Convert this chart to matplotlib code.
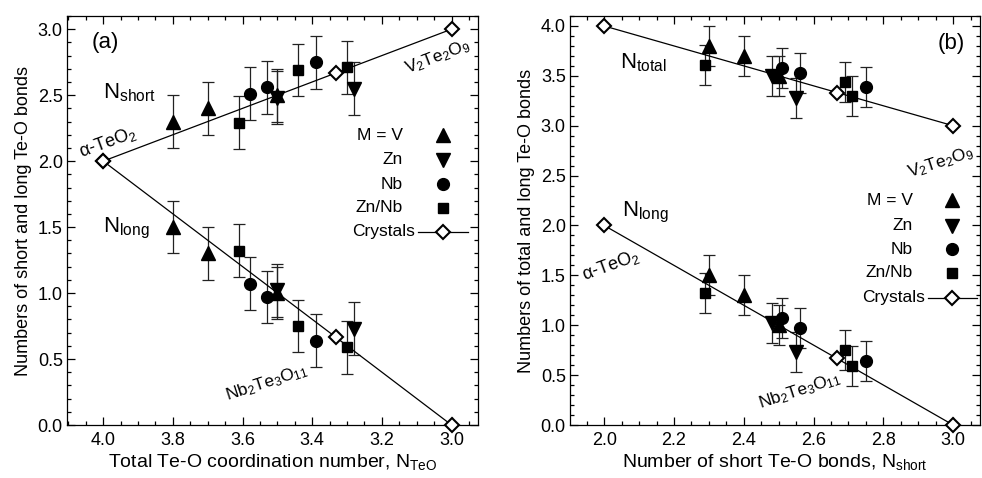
import matplotlib
matplotlib.use("Agg")
import matplotlib.pyplot as plt
from matplotlib.ticker import MultipleLocator, FormatStrFormatter

plt.rcParams['font.family'] = ['Liberation Sans', 'DejaVu Sans']
plt.rcParams['mathtext.fontset'] = 'custom'
plt.rcParams['mathtext.rm'] = 'Liberation Sans'
plt.rcParams['mathtext.it'] = 'Liberation Sans:italic'
plt.rcParams['mathtext.default'] = 'regular'

# Glass series: total Te-O coordination, short and long Te-O bonds
v_teo = [3.80, 3.70, 3.50]
v_short = [2.30, 2.40, 2.50]
v_long = [1.50, 1.30, 1.00]

zn_teo = [3.50, 3.28]
zn_short = [2.48, 2.55]
zn_long = [1.02, 0.73]

nb_teo = [3.58, 3.53, 3.39]
nb_short = [2.51, 2.56, 2.75]
nb_long = [1.07, 0.97, 0.64]

znnb_teo = [3.61, 3.44, 3.30]
znnb_short = [2.29, 2.69, 2.71]
znnb_long = [1.32, 0.75, 0.59]

err = 0.2

# Reference crystals: alpha-TeO2, Nb2Te3O11, V2Te2O9
cr_teo = [4.0, 3.333, 3.0]
cr_short = [2.0, 2.667, 3.0]
cr_long = [2.0, 0.667, 0.0]

series = [
    ("M = V", '^', 9.5, v_teo, v_short, v_long),
    ("Zn", 'v', 9.5, zn_teo, zn_short, zn_long),
    ("Nb", 'o', 8.5, nb_teo, nb_short, nb_long),
    ("Zn/Nb", 's', 7.5, znnb_teo, znnb_short, znnb_long),
]

fig = plt.figure(figsize=(9.82, 4.78), dpi=100)
ax1 = fig.add_axes([67 / 982, 1 - 425 / 478, 411 / 982, 409 / 478])
ax2 = fig.add_axes([570 / 982, 1 - 425 / 478, 410 / 982, 409 / 478])

err_kw = dict(ecolor='#222222', elinewidth=0.9, capsize=4.6, capthick=0.9,
              linestyle='none', color='black', zorder=3)
dia_kw = dict(marker='D', markersize=7.6, markerfacecolor='white',
              markeredgecolor='black', markeredgewidth=1.5, color='black',
              linewidth=0.9, clip_on=False, zorder=4)

# (a) short and long bonds vs total coordination
ax1.plot(cr_teo, cr_short, **dia_kw)
ax1.plot(cr_teo, cr_long, **dia_kw)
for label, mk, ms, teo, short, long_ in series:
    ax1.errorbar(teo, short, yerr=err, marker=mk, markersize=ms, **err_kw)
    ax1.errorbar(teo, long_, yerr=err, marker=mk, markersize=ms, **err_kw)

# (b) total and long bonds vs short bonds
ax2.plot(cr_short, cr_teo, **dia_kw)
ax2.plot(cr_short, cr_long, **dia_kw)
for label, mk, ms, teo, short, long_ in series:
    ax2.errorbar(short, teo, yerr=err, marker=mk, markersize=ms, **err_kw)
    ax2.errorbar(short, long_, yerr=err, marker=mk, markersize=ms, **err_kw)

ax1.set_xlim(4.104, 2.924)
ax1.set_ylim(0, 3.1)
ax2.set_xlim(1.902, 3.077)
ax2.set_ylim(0, 4.1)

for ax in (ax1, ax2):
    ax.xaxis.set_major_locator(MultipleLocator(0.2))
    ax.xaxis.set_minor_locator(MultipleLocator(0.05))
    ax.yaxis.set_major_locator(MultipleLocator(0.5))
    ax.yaxis.set_minor_locator(MultipleLocator(0.1))
    ax.tick_params(which='both', direction='in', top=True, right=True,
                   width=0.9, labelsize=13)
    ax.tick_params(which='major', length=5.5)
    ax.tick_params(which='minor', length=2.7)
    ax.tick_params(axis='x', pad=5)
    ax.tick_params(axis='y', pad=3)
    for sp in ax.spines.values():
        sp.set_linewidth(0.9)
    ax.xaxis.set_major_formatter(FormatStrFormatter('%.1f'))
    ax.yaxis.set_major_formatter(FormatStrFormatter('%.1f'))

ax1.set_xlabel("Total Te-O coordination number, N$_{TeO}$", fontsize=14, labelpad=2)
ax1.set_ylabel("Numbers of short and long Te-O bonds", fontsize=13, labelpad=4)
ax2.set_xlabel("Number of short Te-O bonds, N$_{short}$", fontsize=14, labelpad=2)
ax2.set_ylabel("Numbers of total and long Te-O bonds", fontsize=13, labelpad=4)

# panel annotations
ax1.text(3.993, 2.90, "(a)", fontsize=16, ha='center', va='center')
ax1.text(4.0, 2.52, "N$_{short}$", fontsize=16, ha='left', va='center')
ax1.text(4.0, 1.49, "N$_{long}$", fontsize=16, ha='left', va='center')
ax1.text(3.987, 2.14, "α-TeO$_2$", fontsize=13, ha='center', va='center', rotation=20)
ax1.text(3.039, 2.79, "V$_2$Te$_2$O$_9$", fontsize=12.5, ha='center', va='center', rotation=21)
ax1.text(3.53, 0.32, "Nb$_2$Te$_3$O$_{11}$", fontsize=12.5, ha='center', va='center', rotation=18)

ax2.text(2.996, 3.82, "(b)", fontsize=16, ha='center', va='center')
ax2.text(2.045, 3.63, "N$_{total}$", fontsize=16, ha='left', va='center')
ax2.text(2.05, 2.135, "N$_{long}$", fontsize=16, ha='left', va='center')
ax2.text(2.019, 1.60, "α-TeO$_2$", fontsize=13, ha='center', va='center', rotation=20)
ax2.text(2.965, 2.63, "V$_2$Te$_2$O$_9$", fontsize=12.5, ha='center', va='center', rotation=18)
ax2.text(2.56, 0.34, "Nb$_2$Te$_3$O$_{11}$", fontsize=12.5, ha='center', va='center', rotation=18)


def draw_key(ax, mx, rows, text_x, cr_text_x, line_x0, line_x1):
    for (label, mk, ms, *_), y in zip(series, rows[:4]):
        ax.plot([mx], [y], marker=mk, markersize=ms, color='black',
                linestyle='none', transform=ax.transAxes, clip_on=False)
        ax.text(text_x, y, label, fontsize=12.5, ha='right', va='center',
                transform=ax.transAxes)
    y = rows[4]
    ax.plot([line_x0, line_x1], [y, y], color='black', linewidth=0.9,
            transform=ax.transAxes, clip_on=False, zorder=4)
    ax.plot([mx], [y], marker='D', markersize=7.6, markerfacecolor='white',
            markeredgecolor='black', markeredgewidth=1.5, linestyle='none',
            transform=ax.transAxes, clip_on=False, zorder=5)
    ax.text(cr_text_x, y, "Crystals", fontsize=12.5, ha='right', va='center',
            transform=ax.transAxes)


draw_key(ax1, 0.915, [0.709, 0.648, 0.589, 0.531, 0.472], 0.8175, 0.847, 0.854, 0.976)
draw_key(ax2, 0.932, [0.550, 0.487, 0.430, 0.372, 0.311], 0.837, 0.866, 0.873, 0.993)

fig.savefig("out.png", dpi=100)
